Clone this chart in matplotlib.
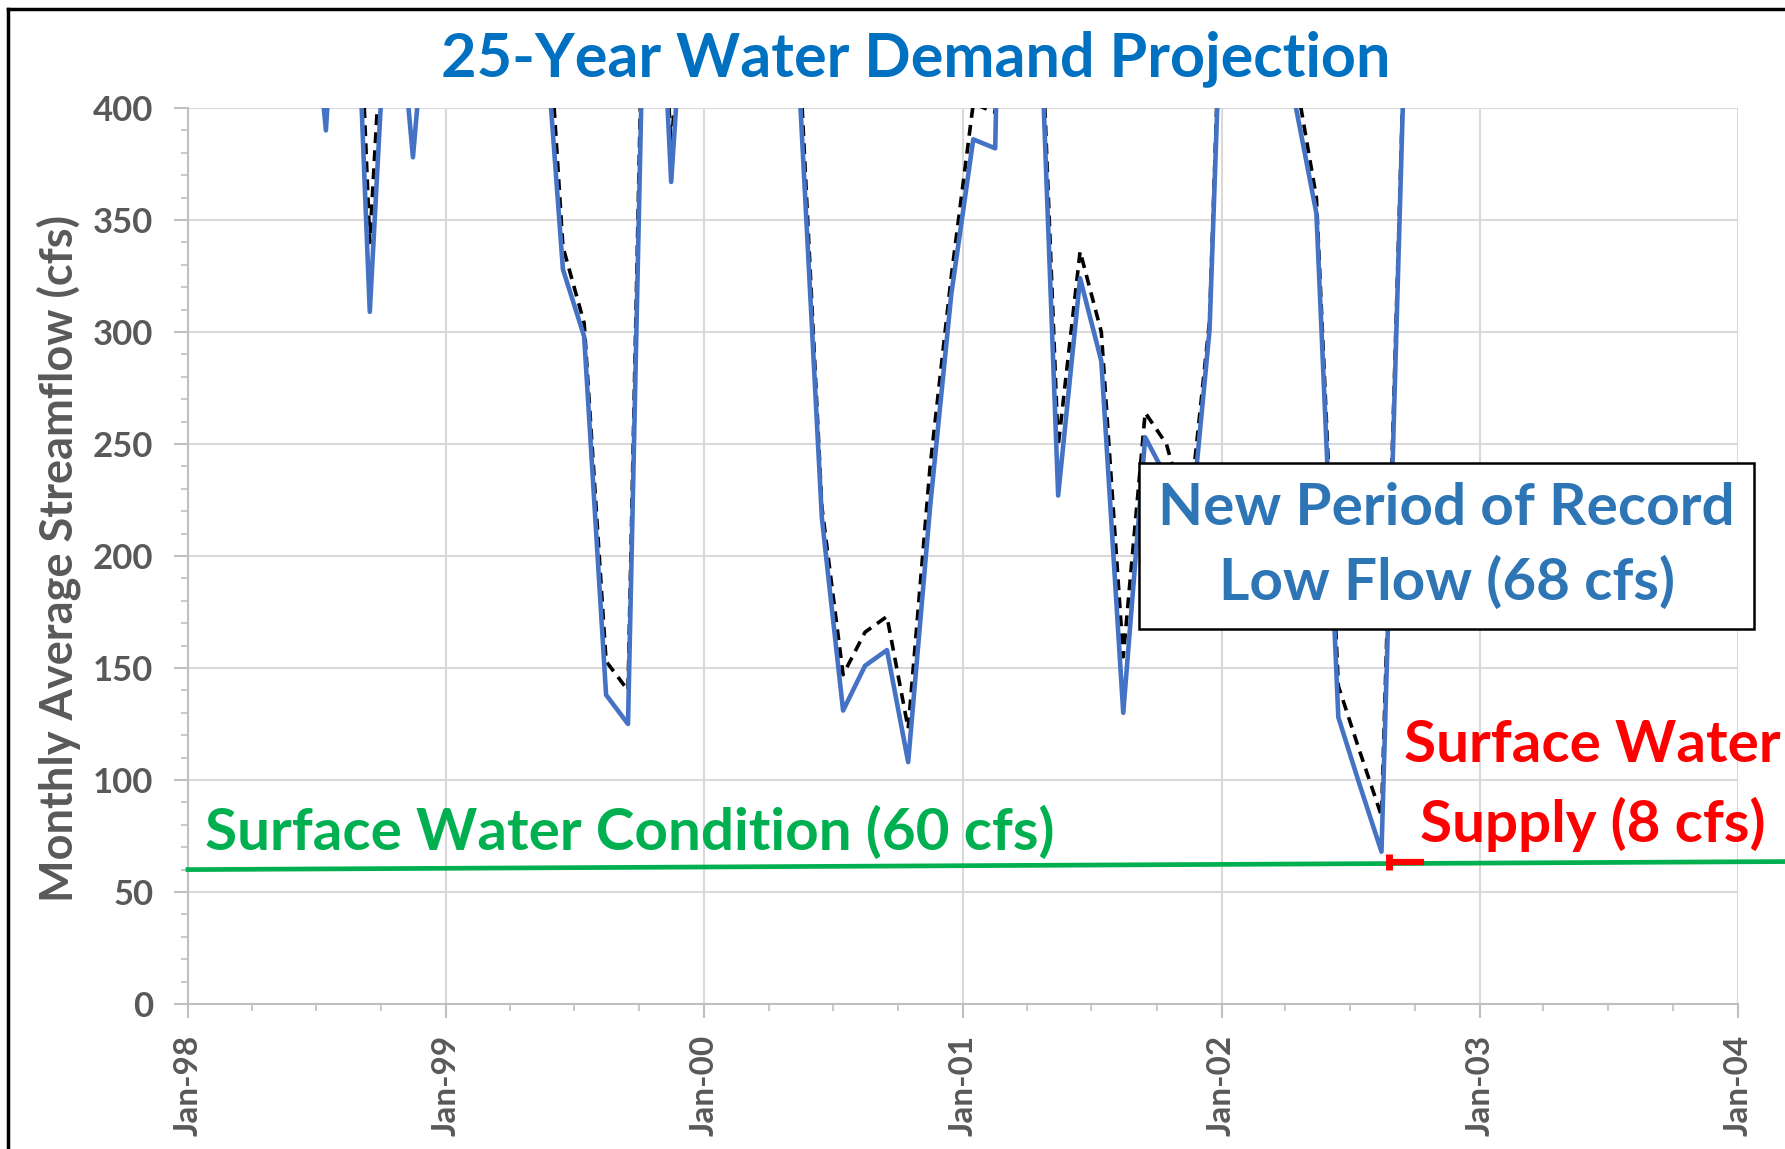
import numpy as np
import pandas as pd
import matplotlib
matplotlib.use("Agg")
import matplotlib.pyplot as plt
import matplotlib.dates as mdates
from matplotlib.lines import Line2D

plt.rcParams['font.family'] = ['Lato', 'DejaVu Sans']

#monthly values, Jan-98 .. Dec-03 (values above 400 are off the chart)
months = pd.date_range('1998-01-01', periods=72, freq='MS') + pd.Timedelta(days=14)

flow_new = [900, 1100, 1300, 1000, 800, 490, 390, 555, 309, 487, 378, 488,
            700, 900, 1000, 800, 461, 328, 298, 138, 125, 569, 367, 512,
            800, 1000, 900, 600, 405, 217, 131, 151, 158, 108, 222, 317,
            386, 382, 800, 482, 227, 324, 287, 130, 253, 235, 201, 301,
            584, 900, 700, 402, 353, 128, 98, 68, 410, 700, 900, 1100,
            1200, 1000, 900, 800, 900, 1000, 1100, 1000, 900, 800, 700, 800]

flow_old = [920, 1120, 1320, 1020, 820, 520, 420, 580, 340, 510, 410, 510,
            720, 920, 1020, 820, 493, 338, 304, 153, 140, 590, 380, 530,
            820, 1020, 920, 620, 420, 222, 147, 166, 173, 123, 240, 325,
            402, 398, 820, 490, 249, 336, 300, 155, 264, 250, 215, 305,
            600, 920, 720, 415, 360, 142, 113, 84, 415, 720, 920, 1120,
            1220, 1020, 920, 820, 920, 1020, 1120, 1020, 920, 820, 720, 820]

#surface water condition line (slightly rising, runs off the right edge)
cond_dates = pd.to_datetime(['1998-01-01', '2004-03-15'])
cond_vals = [60, 63.6]

#surface water supply marker
supply_dates = pd.to_datetime(['2002-08-25', '2002-10-14'])
supply_vals = [63.4, 63.4]

year_ticks = pd.date_range('1998-01-01', '2004-01-01', freq='YS')
year_labels = [d.strftime('%b-%y') for d in year_ticks]
y_ticks = np.arange(0, 401, 50)

grey = '#595959'

fig = plt.figure(figsize=(17.85, 11.49), dpi=100)
ax = fig.add_axes([0.1053, 0.1262, 0.8684, 0.7798])

ax.plot(months, flow_old, color='black', lw=2.6, ls=(0, (3, 2)), zorder=3)
ax.plot(months, flow_new, color='#4472C4', lw=3.3, zorder=4)

ax.plot(cond_dates, cond_vals, color='#00B050', lw=3.4, clip_on=False, zorder=5)
ax.plot(supply_dates, supply_vals, color='red', lw=4.5, solid_capstyle='butt', zorder=6)
ax.plot(supply_dates[:1], supply_vals[:1], marker='|', ms=12, mew=5, color='red', zorder=6)

ax.set_ylim(0, 400)
ax.set_xlim(year_ticks[0], year_ticks[-1])
ax.set_yticks(y_ticks)
ax.set_yticklabels([str(v) for v in y_ticks], fontsize=25, fontweight='bold', color=grey)
ax.set_xticks(year_ticks)
ax.set_xticklabels(year_labels, rotation=90, fontsize=24, fontweight='bold', color=grey)
ax.xaxis.set_minor_locator(mdates.MonthLocator(bymonth=[1, 4, 7, 10]))
ax.yaxis.set_minor_locator(plt.MultipleLocator(10))
ax.tick_params(axis='both', which='major', color='#BFBFBF', width=1.5, length=10)
ax.tick_params(axis='y', which='major', pad=15)
ax.tick_params(axis='x', which='major', pad=12)
ax.tick_params(axis='both', which='minor', color='#BFBFBF', width=1.2, length=5)

ax.grid(True, which='major', color='#D9D9D9', lw=1.5)
ax.set_axisbelow(True)
for s in ['top', 'right']:
    ax.spines[s].set_visible(False)
for s in ['left', 'bottom']:
    ax.spines[s].set_color('#BFBFBF')
    ax.spines[s].set_linewidth(1.5)

fig.text(0.033, 0.514, 'Monthly Average Streamflow (cfs)', rotation=90, ha='center', va='center',
         fontsize=32.5, fontweight='bold', color=grey)
fig.text(0.513, 0.949, '25-Year Water Demand Projection', ha='center', va='center',
         fontsize=44, fontweight='bold', color='#0070C0')

ax.text(0.011, 0.191, 'Surface Water Condition (60 cfs)', transform=ax.transAxes,
        ha='left', va='center', fontsize=42, fontweight='bold', color='#00B050')
ax.text(0.906, 0.244, 'Surface Water\nSupply (8 cfs)', transform=ax.transAxes,
        ha='center', va='center', fontsize=42, fontweight='bold', color='red',
        linespacing=1.54, clip_on=False)
ax.text(0.812, 0.511, 'New Period of Record\nLow Flow (68 cfs)', transform=ax.transAxes,
        ha='center', va='center', fontsize=42, fontweight='bold', color='#2E75B6',
        linespacing=1.47, zorder=10, clip_on=False,
        bbox=dict(boxstyle='square,pad=0.33', fc='white', ec='black', lw=1.8))

#chart area border (top and left only visible)
fig.add_artist(Line2D([0.0045, 0.0045], [0.0, 0.992], color='black', lw=2.5))
fig.add_artist(Line2D([0.0045, 1.0], [0.992, 0.992], color='black', lw=2.5))

fig.savefig('out.png', dpi=100)
